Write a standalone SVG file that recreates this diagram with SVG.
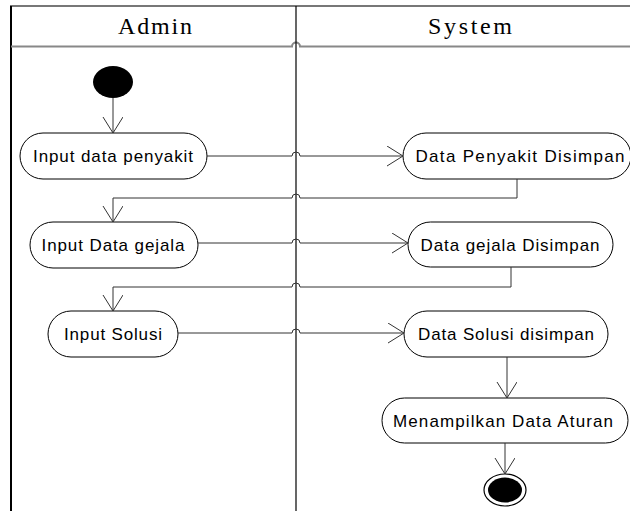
<svg xmlns="http://www.w3.org/2000/svg" width="630" height="511" viewBox="0 0 630 511">
<style>
.node{fill:#fff;stroke:#000;stroke-width:1}
.lbl{font-family:"Liberation Sans",Arial,sans-serif;font-size:17px;fill:#000;text-anchor:middle}
.hdr{font-family:"Liberation Serif","Times New Roman",serif;font-size:24px;fill:#000;text-anchor:middle}
.conn{fill:none;stroke:#333;stroke-width:1}
</style>
<defs>
<marker id="arr" markerWidth="24" markerHeight="24" refX="16" refY="10" orient="auto" markerUnits="userSpaceOnUse">
<path d="M0,0 L16,10 L0,20" fill="none" stroke="#333" stroke-width="1"/>
</marker>
</defs>
<rect width="630" height="511" fill="#fff"/>
<g id="lanes">
<line x1="10" y1="6" x2="630" y2="6" stroke="#777" stroke-width="2"/>
<line x1="11" y1="6" x2="11" y2="511" stroke="#000" stroke-width="2"/>
<path d="M11,46.5 H292 A4,4 0 0 1 300,46.5 H630" fill="none" stroke="#888" stroke-width="2"/>
<line x1="296" y1="6" x2="296" y2="511" stroke="#000" stroke-width="1.2"/>
<text class="hdr" x="155" y="34" textLength="74" lengthAdjust="spacing">Admin</text>
<text class="hdr" x="470" y="34" textLength="84" lengthAdjust="spacing">System</text>
</g>
<g id="start"><ellipse cx="113" cy="82" rx="20" ry="16" fill="#000"/></g>
<g id="n1"><rect class="node" x="20" y="133" width="187" height="46" rx="23"/><text class="lbl" x="113" y="162" textLength="160" lengthAdjust="spacing">Input data penyakit</text></g>
<g id="n2"><rect class="node" x="403" y="133" width="228" height="46" rx="23"/><text class="lbl" x="520" y="162" textLength="209" lengthAdjust="spacing">Data Penyakit Disimpan</text></g>
<g id="n3"><rect class="node" x="30" y="222" width="168" height="46" rx="23"/><text class="lbl" x="113" y="251" textLength="143" lengthAdjust="spacing">Input Data gejala</text></g>
<g id="n4"><rect class="node" x="408" y="222" width="205" height="45" rx="22.5"/><text class="lbl" x="510" y="251" textLength="179" lengthAdjust="spacing">Data gejala Disimpan</text></g>
<g id="n5"><rect class="node" x="48" y="311" width="130" height="46" rx="23"/><text class="lbl" x="113" y="340" textLength="98" lengthAdjust="spacing">Input Solusi</text></g>
<g id="n6"><rect class="node" x="404" y="311" width="204" height="46" rx="23"/><text class="lbl" x="506" y="340" textLength="176" lengthAdjust="spacing">Data Solusi disimpan</text></g>
<g id="n7"><rect class="node" x="382" y="398" width="246" height="45" rx="22.5"/><text class="lbl" x="503" y="427" textLength="220" lengthAdjust="spacing">Menampilkan Data Aturan</text></g>
<g id="end"><ellipse cx="505" cy="490" rx="21" ry="16" fill="#fff" stroke="#000" stroke-width="1.2"/><ellipse cx="505" cy="490" rx="17" ry="12.5" fill="#000"/></g>
<g id="connectors">
<path class="conn" d="M113,98 V133" marker-end="url(#arr)" stroke="#666"/>
<path class="conn" d="M207,156 H292 A4,4 0 0 1 300,156 H403" marker-end="url(#arr)"/>
<path class="conn" d="M517,179 V198 H300 A4,4 0 0 0 292,198 H113 V222" marker-end="url(#arr)"/>
<path class="conn" d="M198,243 H292 A4,4 0 0 1 300,243 H408" marker-end="url(#arr)"/>
<path class="conn" d="M511,267 V287 H300 A4,4 0 0 0 292,287 H113 V311" marker-end="url(#arr)"/>
<path class="conn" d="M178,333 H292 A4,4 0 0 1 300,333 H404" marker-end="url(#arr)"/>
<path class="conn" d="M507,357 V398" marker-end="url(#arr)"/>
<path class="conn" d="M505,443 V474" marker-end="url(#arr)"/>
</g>
</svg>
